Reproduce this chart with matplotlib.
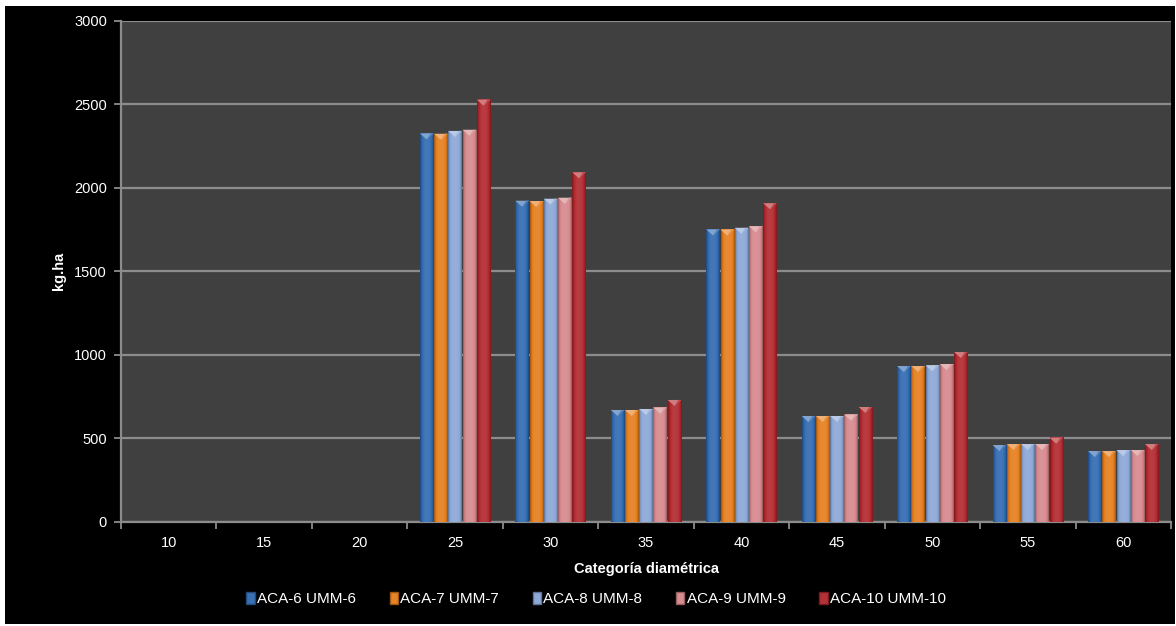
import numpy as np
import matplotlib.pyplot as plt
from matplotlib.patches import Polygon, Rectangle
from matplotlib.colors import to_rgb

plt.rcParams['font.family'] = ['Liberation Sans', 'DejaVu Sans']

categorias = ['10', '15', '20', '25', '30', '35', '40', '45', '50', '55', '60']
series = ['ACA-6 UMM-6', 'ACA-7 UMM-7', 'ACA-8 UMM-8', 'ACA-9 UMM-9', 'ACA-10 UMM-10']

aca6 = [0, 0, 0, 2325, 1922, 669, 1750, 633, 932, 459, 423]
aca7 = [0, 0, 0, 2323, 1920, 669, 1749, 633, 932, 465, 423]
aca8 = [0, 0, 0, 2340, 1934, 675, 1760, 633, 936, 465, 429]
aca9 = [0, 0, 0, 2347, 1940, 683, 1769, 641, 944, 465, 429]
aca10 = [0, 0, 0, 2527, 2092, 729, 1907, 687, 1016, 503, 465]
valores = [aca6, aca7, aca8, aca9, aca10]

cores = ['#2f69b0', '#e57d1c', '#8aa6d6', '#d6878b', '#b0262b']


def tom(c, f):
    # f > 0 clareia, f < 0 escurece
    c = np.array(to_rgb(c))
    if f >= 0:
        return c + (1 - c) * f
    return c * (1 + f)


def barra_3d(ax, x0, w, h, cor):
    if h <= 0:
        return
    # gradiente horizontal: bordas escuras, centro levemente mais claro
    t = np.linspace(-1, 1, 40)
    perfil = 0.10 * (1 - t ** 2) - 0.35 * np.abs(t) ** 5
    img = np.array([[tom(cor, p) for p in perfil]])
    ax.imshow(img, extent=(x0, x0 + w, 0, h), aspect='auto',
              interpolation='bilinear', zorder=3)
    # bisel no topo
    bh = 36
    ax.add_patch(Polygon([(x0, h), (x0 + w, h), (x0 + w / 2, h - bh)],
                         closed=True, facecolor=tom(cor, 0.4),
                         edgecolor='none', zorder=4))
    ax.add_patch(Polygon([(x0 + w, h), (x0 + w * 0.8, h), (x0 + w / 2, h - bh)],
                         closed=True, facecolor=tom(cor, 0.15),
                         edgecolor='none', zorder=4))


fig = plt.figure(figsize=(11.76, 6.26), dpi=100, facecolor='white')
fig.patches.append(Rectangle((5 / 1176, 2 / 626), 1170 / 1176, 618 / 626,
                             transform=fig.transFigure, facecolor='black',
                             edgecolor='none', zorder=-10))

ax = fig.add_axes([121 / 1176, 1 - 521.7 / 626, 1050 / 1176, 501 / 626])
ax.set_facecolor('#404040')

n = len(series)
larg = 0.149
x = np.arange(len(categorias))
for i, (vals, cor) in enumerate(zip(valores, cores)):
    for xi, v in zip(x, vals):
        x0 = xi - n * larg / 2 + i * larg
        barra_3d(ax, x0 + 0.004, larg - 0.008, v, cor)

ax.set_xlim(-0.5, len(categorias) - 0.5)
ax.set_ylim(0, 3000)
ax.set_yticks(np.arange(0, 3001, 500))
ax.set_xticks(x)
ax.set_xticklabels(categorias)
ax.set_xticks(np.arange(-0.5, len(categorias), 1), minor=True)

ax.grid(axis='y', color='#8c8c8c', linewidth=1.6, zorder=1)
ax.set_axisbelow(True)
for lado in ['top', 'right']:
    ax.spines[lado].set_visible(False)
for lado in ['left', 'bottom']:
    ax.spines[lado].set_color('#8c8c8c')
    ax.spines[lado].set_linewidth(1.6)

ax.tick_params(axis='y', colors='#8c8c8c', labelcolor='white', labelsize=10.5,
               length=5, width=1.3, direction='out', pad=5)
ax.tick_params(axis='x', which='major', length=0, labelcolor='white',
               labelsize=10.5, pad=10)
ax.tick_params(axis='x', which='minor', colors='#8c8c8c', length=5,
               width=1.3, direction='out')

ax.set_xlabel('Categoría diamétrica', color='white', fontsize=10.5,
              fontweight='bold', labelpad=9)
ax.set_ylabel('kg.ha', color='white', fontsize=10.5, fontweight='bold')
ax.yaxis.set_label_coords(-0.052, 0.5)

# legenda
handles = [Rectangle((0, 0), 1, 1, facecolor=tom(c, 0.05), edgecolor=tom(c, -0.3))
           for c in cores]
leg = fig.legend(handles, series, loc='center', bbox_to_anchor=(0.507, 1 - 599 / 626),
                 ncol=5, frameon=False, fontsize=11, handlelength=0.55,
                 handleheight=0.8, handletextpad=0.15, columnspacing=2.2)
for txt in leg.get_texts():
    txt.set_color('white')

fig.savefig('out.png', dpi=100, facecolor='white')
